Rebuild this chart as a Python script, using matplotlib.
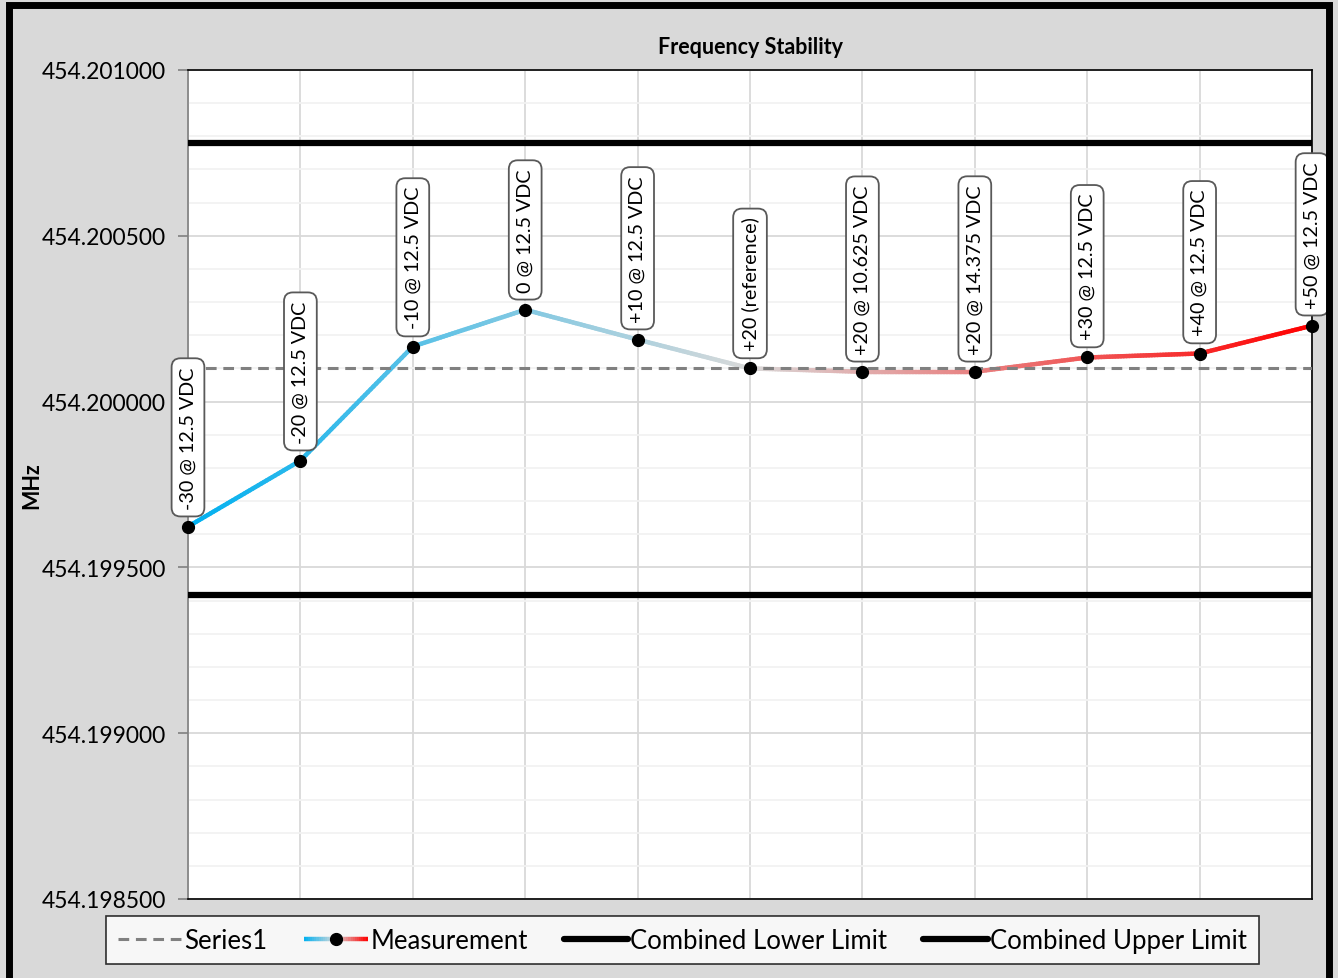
import numpy as np
import matplotlib.pyplot as plt
from matplotlib.collections import LineCollection
from matplotlib.colors import LinearSegmentedColormap
from matplotlib.lines import Line2D
from matplotlib.patches import Rectangle
from matplotlib.ticker import MultipleLocator, FormatStrFormatter

plt.rcParams['font.family'] = ['Lato', 'DejaVu Sans']

# Data
labels = ["-30 @ 12.5 VDC", "-20 @ 12.5 VDC", "-10 @ 12.5 VDC", "0 @ 12.5 VDC",
          "+10 @ 12.5 VDC", "+20 (reference)", "+20 @ 10.625 VDC", "+20 @ 14.375 VDC",
          "+30 @ 12.5 VDC", "+40 @ 12.5 VDC", "+50 @ 12.5 VDC"]
measurement = [454.199623, 454.199822, 454.200166, 454.200277, 454.200187,
               454.200100, 454.200090, 454.200090, 454.200133, 454.200145,
               454.200229]
series1 = [454.200100] * 11
lower_limit = [454.199417] * 11
upper_limit = [454.200781] * 11

x = np.arange(len(labels))

grad = LinearSegmentedColormap.from_list(
    "meas", ["#00b0f0", "#d9d9d9", "#ff0000"])

fig = plt.figure(figsize=(13.38, 9.79), dpi=100)
fig.patch.set_facecolor("#d9d9d9")
# outer frame (bottom edge falls off the picture, as in the original)
fig.patches.append(Rectangle((0.0065, -0.02), 0.987, 1.014, transform=fig.transFigure,
                             fill=False, edgecolor="black", linewidth=5, zorder=10))

ax = fig.add_axes([0.1405, 0.0807, 0.8401, 0.8468])
ax.set_facecolor("white")

# limits
ax.plot(x, lower_limit, color="black", linewidth=4.5, solid_capstyle="butt", zorder=3)
ax.plot(x, upper_limit, color="black", linewidth=4.5, solid_capstyle="butt", zorder=3)

# measurement line with horizontal colour gradient
segs, cols = [], []
n_sub = 40
for i in range(len(x) - 1):
    t = np.linspace(0, 1, n_sub + 1)
    xs = x[i] + t * (x[i + 1] - x[i])
    ys = measurement[i] + t * (measurement[i + 1] - measurement[i])
    for k in range(n_sub):
        segs.append([(xs[k], ys[k]), (xs[k + 1], ys[k + 1])])
        cols.append(grad(((xs[k] + xs[k + 1]) / 2) / x[-1]))
lc = LineCollection(segs, colors=cols, linewidth=3.2, capstyle="round", zorder=4)
ax.add_collection(lc)

ax.plot(x, series1, color="#808080", linewidth=2.2, dashes=(3.5, 2.2), zorder=5)
ax.plot(x, measurement, linestyle="none", marker="o", markersize=8.5,
        color="black", zorder=6, clip_on=False)

for xi, yi, lab in zip(x, measurement, labels):
    ax.annotate(lab, (xi, yi), xytext=(0, 13), textcoords="offset points",
                rotation=90, ha="center", va="bottom", fontsize=14.2, zorder=7,
                annotation_clip=False,
                bbox=dict(boxstyle="round,pad=0.4,rounding_size=0.45",
                          facecolor="white", edgecolor="#595959", linewidth=1.3))

ax.set_xlim(0, 10)
ax.set_ylim(454.1985, 454.201)
ax.yaxis.set_major_locator(MultipleLocator(0.0005))
ax.yaxis.set_minor_locator(MultipleLocator(0.0001))
ax.yaxis.set_major_formatter(FormatStrFormatter("%.6f"))
ax.set_xticks(x)
ax.set_xticklabels([])
ax.tick_params(axis="x", length=0)
ax.tick_params(axis="y", which="major", length=7, width=1.2, color="#808080",
               labelsize=16.5, pad=9)
ax.tick_params(axis="y", which="minor", length=0)
ax.grid(True, axis="y", which="major", color="#d9d9d9", linewidth=1.3, zorder=0)
ax.grid(True, axis="y", which="minor", color="#f2f2f2", linewidth=1.3, zorder=0)
ax.grid(True, axis="x", which="major", color="#d9d9d9", linewidth=1.3, zorder=0)
ax.set_axisbelow(True)
for s in ax.spines.values():
    s.set_color("black")
    s.set_linewidth(1.2)
ax.spines["left"].set_color("#808080")

ax.set_title("Frequency Stability", fontsize=15.5, fontweight="bold", pad=12)
ax.set_ylabel("MHz", fontsize=15.5, fontweight="bold")
ax.yaxis.set_label_coords(-0.13, 0.5)


class GradientHandler:
    def legend_artist(self, legend, orig_handle, fontsize, handlebox):
        w, h = handlebox.width, handlebox.height
        xd, yd = handlebox.xdescent, handlebox.ydescent
        t = np.linspace(0, 1, 31)
        xs = -xd + t * w
        yc = -yd + h / 2
        segs = [[(xs[k], yc), (xs[k + 1], yc)] for k in range(len(xs) - 1)]
        cols = [grad((t[k] + t[k + 1]) / 2) for k in range(len(xs) - 1)]
        lc = LineCollection(segs, colors=cols, linewidth=3.2,
                            transform=handlebox.get_transform())
        handlebox.add_artist(lc)
        mk = Line2D([-xd + w / 2], [yc], marker="o", markersize=8.5, color="black",
                    linestyle="none", transform=handlebox.get_transform())
        handlebox.add_artist(mk)
        return lc


class GradientKey:
    pass


handles = [
    Line2D([], [], color="#808080", linewidth=2.2, dashes=(3.5, 2.2)),
    GradientKey(),
    Line2D([], [], color="black", linewidth=4.5, solid_capstyle="round"),
    Line2D([], [], color="black", linewidth=4.5, solid_capstyle="round"),
]
leg = fig.legend(handles, ["Series1", "Measurement", "Combined Lower Limit",
                           "Combined Upper Limit"],
                 handler_map={GradientKey: GradientHandler()},
                 loc="center", bbox_to_anchor=(0.51, 0.0385), ncol=4,
                 fontsize=18.5, frameon=True, fancybox=False, edgecolor="black",
                 handlelength=2.5, handletextpad=0.1, columnspacing=1.4,
                 borderpad=0.45)
leg.get_frame().set_linewidth(1.2)

fig.savefig("out.png", dpi=100, facecolor=fig.get_facecolor())
